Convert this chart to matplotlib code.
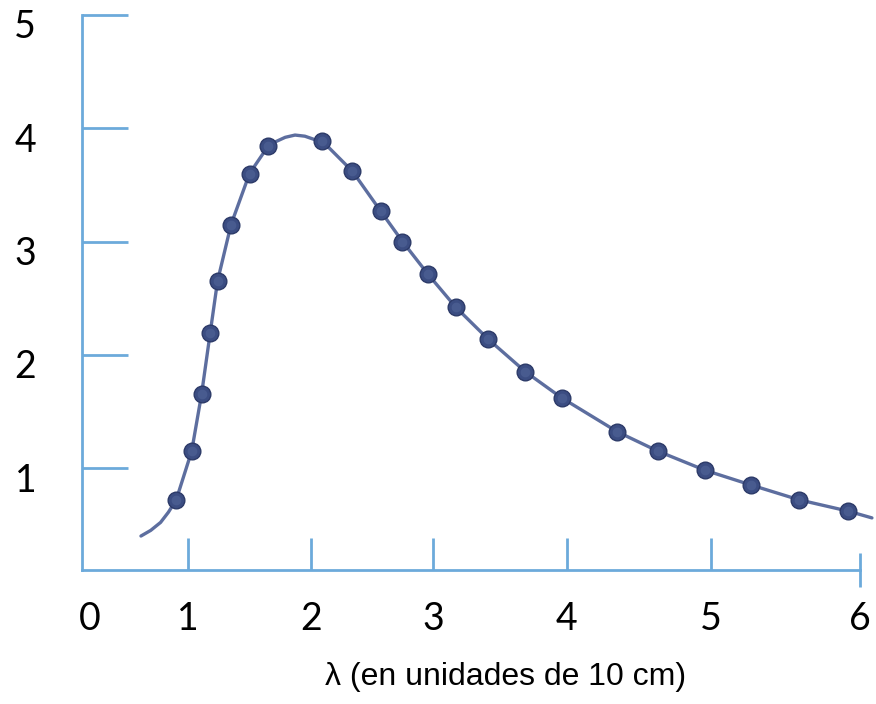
import numpy as np
import matplotlib
matplotlib.use("Agg")
import matplotlib.pyplot as plt
import matplotlib.transforms as mtransforms
from matplotlib.ticker import FixedLocator, FixedFormatter

# measured points (lambda in units of 10 cm, intensity)
lam_pts = [0.88, 1.03, 1.11, 1.18, 1.24, 1.35, 1.50, 1.65, 2.09, 2.34, 2.57,
           2.75, 2.96, 3.17, 3.41, 3.69, 3.96, 4.35, 4.63, 4.96, 5.27, 5.59, 5.92]
val_pts = [0.72, 1.15, 1.65, 2.19, 2.65, 3.15, 3.60, 3.84, 3.89, 3.62, 3.27,
           3.00, 2.71, 2.42, 2.14, 1.85, 1.62, 1.32, 1.15, 0.98, 0.85, 0.72, 0.62]

# curve
lam_curve = [0.52, 0.62, 0.72, 0.80, 0.88, 1.03, 1.11, 1.18, 1.24, 1.35, 1.50,
             1.65, 1.71, 1.79, 1.87, 1.95, 2.03, 2.09, 2.34, 2.57, 2.75, 2.96,
             3.17, 3.41, 3.69, 3.96, 4.35, 4.63, 4.96, 5.27, 5.59, 5.92, 6.08]
val_curve = [0.40, 0.45, 0.52, 0.61, 0.72, 1.15, 1.65, 2.19, 2.65, 3.15, 3.60,
             3.84, 3.88, 3.92, 3.94, 3.93, 3.90, 3.89, 3.62, 3.27, 3.00, 2.71,
             2.42, 2.14, 1.85, 1.62, 1.32, 1.15, 0.98, 0.85, 0.72, 0.62, 0.56]

x_ticks = [0, 1, 2, 3, 4, 5]
y_ticks = [1, 2, 3, 4, 5]

# the drawn axis is not evenly spaced: anchor positions of each unit
LAM_EXT = [-5, 0, 1, 2, 3, 4, 5, 6, 12]
POS_EXT = [-410, 90, 188, 311, 433, 567, 711, 860, 1754]


def fwd(x):
    return np.interp(x, LAM_EXT, POS_EXT)


def inv(p):
    return np.interp(p, POS_EXT, LAM_EXT)


axis_blue = '#6caadb'

fig = plt.figure(figsize=(8.76, 7.04), dpi=100)
ax = fig.add_axes([82 / 876, 134 / 704, 778 / 876, 555 / 704])
ax.set_xscale('function', functions=(fwd, inv))
ax.set_xlim(-0.08, 6)
ax.set_ylim(0.1, 5)

ax.plot(lam_curve, val_curve, color='#5d6e9f', lw=2.4, solid_capstyle='round',
        solid_joinstyle='round', clip_on=False, zorder=2)
ax.plot(lam_pts, val_pts, 'o', ms=12, mfc='#3b4d82', mec='#2c3a68', mew=1.0,
        clip_on=False, zorder=3)
ax.plot(lam_pts, val_pts, 'o', ms=7, mfc='#6376aa', mec='none', alpha=0.35,
        clip_on=False, zorder=4)

for s in ['top', 'right']:
    ax.spines[s].set_visible(False)
for s in ['left', 'bottom']:
    ax.spines[s].set_color(axis_blue)
    ax.spines[s].set_linewidth(2)

tick_font = 'Lato'
ax.xaxis.set_major_locator(FixedLocator(x_ticks))
ax.xaxis.set_major_formatter(FixedFormatter([str(t) for t in x_ticks]))
ax.xaxis.set_minor_locator(FixedLocator([6]))
ax.xaxis.set_minor_formatter(FixedFormatter(['6']))
ax.yaxis.set_major_locator(FixedLocator(y_ticks))
ax.yaxis.set_major_formatter(FixedFormatter([str(t) for t in y_ticks]))
ax.yaxis.set_minor_locator(FixedLocator([]))

ax.tick_params(axis='x', which='major', direction='in', length=23, width=2,
               color=axis_blue, pad=22, labelsize=27)
ax.tick_params(axis='x', which='minor', direction='inout', length=25, width=2,
               color=axis_blue, pad=9.5, labelsize=27)
ax.tick_params(axis='y', which='major', direction='in', length=33, width=2,
               color=axis_blue, pad=33, labelsize=27)

for lab in ax.get_xticklabels(which='both') + ax.get_yticklabels():
    lab.set_fontfamily(tick_font)

# y labels sit just below their tick lines
shift_up = mtransforms.ScaledTranslation(0, 4 / 72, fig.dpi_scale_trans)
for lab in ax.get_yticklabels():
    lab.set_verticalalignment('top')
    lab.set_transform(lab.get_transform() + shift_up)

ax.xaxis.get_major_ticks()[0].tick1line.set_visible(False)

ax.set_xlabel('λ (en unidades de 10 cm)', fontsize=23,
              fontfamily='Liberation Sans', va='center')
ax.xaxis.set_label_coords((506 - 82) / 778, (570 - 677) / 555)

fig.savefig('out.png', dpi=100)
